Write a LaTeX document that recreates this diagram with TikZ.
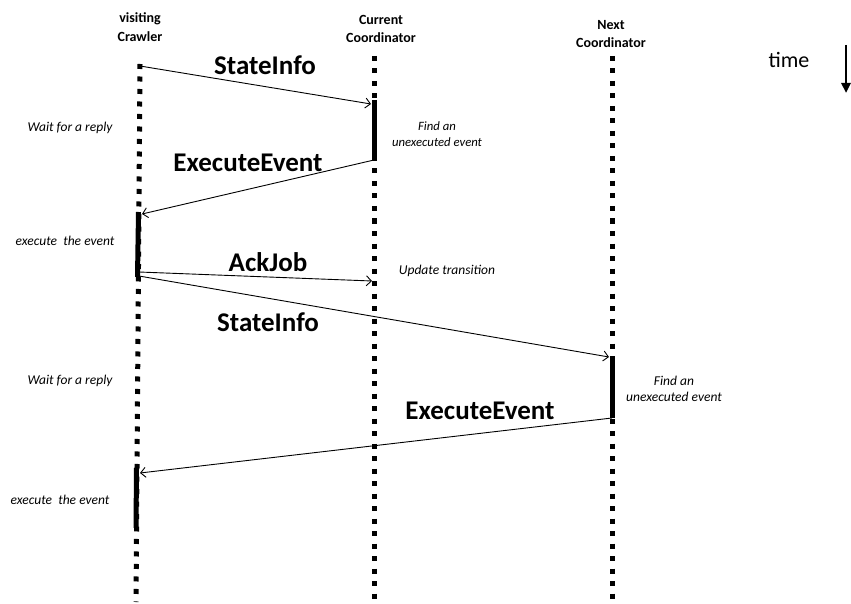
\documentclass[tikz,border=0pt]{standalone}
\usepackage{fontspec}
\setmainfont{Carlito}
\usetikzlibrary{arrows.meta}

\tikzset{
  lifeline/.style={line width=5pt, dash pattern=on 5pt off 7.5pt},
  busy/.style={line width=5pt},
  msg/.style={line width=0.9pt, -{Straight Barb[length=5pt,width=10pt]}},
  msglabel/.style={font=\fontsize{27}{30}\selectfont\bfseries},
  actor/.style={font=\fontsize{14}{18.5}\selectfont\bfseries, align=center},
  note/.style={font=\fontsize{13.5}{16}\selectfont\itshape, align=center},
  smallnote/.style={font=\fontsize{12.7}{16}\selectfont\itshape, align=center},
}

\begin{document}
\begin{tikzpicture}[x=1pt,y=-1pt]
\useasboundingbox (0,0) rectangle (851,604);

% actors
\node (crawler) at (140,27) [actor] {visiting\\Crawler};
\node (cur) at (381,29) [actor] {Current\\Coordinator};
\node (next) at (611,34) [actor] {Next\\Coordinator};

% lifelines
\coordinate (crawlerTop) at (140,64);
\coordinate (crawlerEnd) at (136,602);
\coordinate (curTop) at (374,56);
\coordinate (curEnd) at (374,604);
\coordinate (nextTop) at (612,56);
\coordinate (nextEnd) at (612,600);
\draw[lifeline] (crawlerTop) -- (crawlerEnd);
\draw[lifeline] (curTop) -- (curEnd);
\draw[lifeline] (nextTop) -- (nextEnd);

% activations
\coordinate (curA) at (374,100);
\coordinate (curB) at (374,160);
\coordinate (crA) at (138.5,212);
\coordinate (crB) at (137.5,277);
\coordinate (nextA) at (612,357);
\coordinate (nextB) at (612,418);
\coordinate (crC) at (136.5,468);
\coordinate (crD) at (136,528);
\draw[busy] (curA) -- (curB);
\draw[busy] (crA) -- (crB);
\draw[busy] (nextA) -- (nextB);
\draw[busy] (crC) -- (crD);

% messages
\coordinate (m1s) at (140,66);
\coordinate (m1e) at (371,104);
\coordinate (m2e) at (142,214);
\coordinate (m3s) at (139,272);
\coordinate (m3e) at (372,281);
\coordinate (m4s) at (139,276);
\coordinate (m4e) at (609,357);
\coordinate (m5e) at (140,473);
\draw[msg] (m1s) -- (m1e);
\draw[msg] (curB) -- (m2e);
\draw[msg] (m3s) -- (m3e);
\draw[msg] (m4s) -- (m4e);
\draw[msg] (nextB) -- (m5e);

\node (l1) at (265,65) [msglabel] {StateInfo};
\node (l2) at (248,163) [msglabel] {ExecuteEvent};
\node (l3) at (268,262) [msglabel] {AckJob};
\node (l4) at (268,322) [msglabel] {StateInfo};
\node (l5) at (480,411) [msglabel] {ExecuteEvent};

% notes
\node (n1) at (70,128) [note] {Wait for a reply};
\node (n2) at (437,134) [smallnote] {Find an\\unexecuted event};
\node (n3) at (65,241) [note] {execute\ \ the event};
\node (n4) at (447,271) [note] {Update transition};
\node (n5) at (70,381) [note] {Wait for a reply};
\node (n6) at (674,389) [note] {Find an\\unexecuted event};
\node (n7) at (60,500) [note] {execute\ \ the event};

% time
\node (time) at (789,60) [font=\fontsize{22}{24}\selectfont] {time};
\coordinate (tA) at (846,45);
\coordinate (tB) at (846,93);
\draw[line width=2.5pt, -{Triangle[length=10pt,width=9pt]}] (tA) -- (tB);
\end{tikzpicture}
\end{document}
